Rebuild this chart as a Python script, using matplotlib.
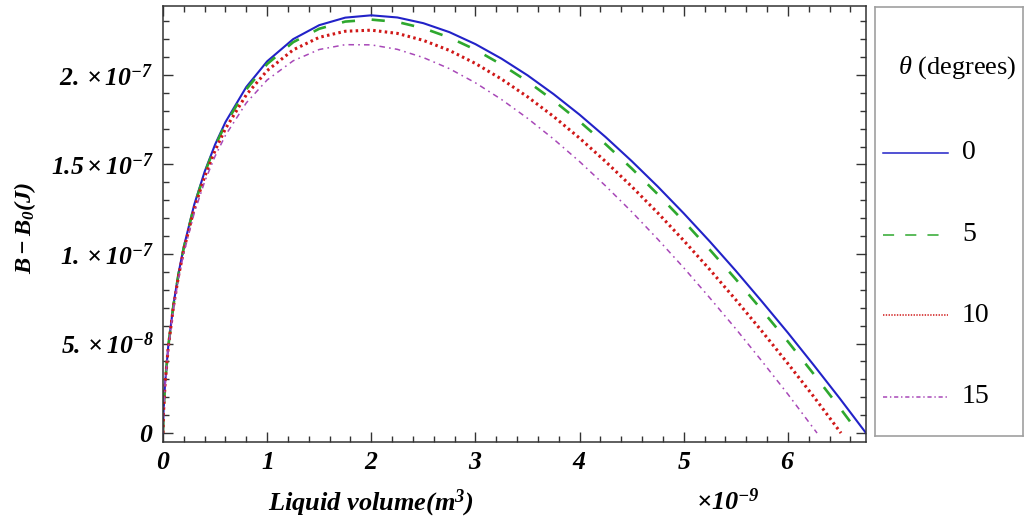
import numpy as np
import matplotlib
matplotlib.use("Agg")
import matplotlib.pyplot as plt
from matplotlib.ticker import MultipleLocator, FixedLocator, FixedFormatter

plt.rcParams['font.family'] = ['Liberation Serif', 'DejaVu Serif']
plt.rcParams['mathtext.fontset'] = 'custom'
plt.rcParams['mathtext.rm'] = 'Liberation Serif'
plt.rcParams['mathtext.it'] = 'Liberation Serif:italic'
plt.rcParams['mathtext.bf'] = 'Liberation Serif:bold'
plt.rcParams['mathtext.bfit'] = 'Liberation Serif:bold:italic'
plt.rcParams['lines.scale_dashes'] = False

# liquid volume (x 1e-9 m^3) and B - B0 (x 1e-7 J)
vol = [0, 0.005, 0.02, 0.05, 0.1, 0.15, 0.2, 0.3, 0.4, 0.5, 0.6, 0.8, 1.0,
       1.25, 1.5, 1.75, 2.0, 2.25, 2.5, 2.75, 3.0, 3.25, 3.5, 3.75, 4.0,
       4.25, 4.5, 4.75, 5.0, 5.25, 5.5, 5.75, 6.0, 6.25]

b_0 = [0, 0.117, 0.278, 0.482, 0.716, 0.895, 1.041, 1.276, 1.460, 1.611,
       1.737, 1.933, 2.076, 2.200, 2.278, 2.320, 2.333, 2.321, 2.289, 2.239,
       2.172, 2.091, 1.998, 1.893, 1.778, 1.653, 1.519, 1.377, 1.227, 1.070,
       0.906, 0.735, 0.560, 0.378]
end_0 = [(6.5, 0.192), (6.75, 0.0)]

b_5 = [0, 0.117, 0.277, 0.480, 0.713, 0.890, 1.036, 1.269, 1.452, 1.602,
       1.726, 1.920, 2.061, 2.183, 2.258, 2.298, 2.309, 2.296, 2.261, 2.209,
       2.141, 2.058, 1.964, 1.857, 1.740, 1.613, 1.478, 1.334, 1.183, 1.024,
       0.859, 0.687, 0.511, 0.328]
end_5 = [(6.5, 0.140), (6.68, 0.0)]

b_10 = [0, 0.116, 0.274, 0.475, 0.705, 0.880, 1.024, 1.253, 1.432, 1.578,
        1.700, 1.889, 2.024, 2.140, 2.210, 2.244, 2.250, 2.232, 2.193, 2.137,
        2.064, 1.977, 1.878, 1.768, 1.647, 1.516, 1.377, 1.230, 1.075, 0.913,
        0.744, 0.569, 0.388, 0.202]
end_10 = [(6.51, 0.0)]

b_15 = [0, 0.114, 0.271, 0.468, 0.694, 0.865, 1.006, 1.229, 1.404, 1.546,
        1.663, 1.844, 1.972, 2.079, 2.142, 2.169, 2.168, 2.143, 2.097, 2.035,
        1.956, 1.863, 1.758, 1.642, 1.516, 1.380, 1.236, 1.083, 0.923, 0.755,
        0.582, 0.402, 0.217]
end_15 = [(6.28, 0.0)]

angles = ['0', '5', '10', '15']
ytick_vals = [0, 0.5, 1.0, 1.5, 2.0]
ytick_labels = [r'$\mathbfit{0}$', r'$\mathbfit{5.\times 10^{-8}}$',
                r'$\mathbfit{1.\times 10^{-7}}$', r'$\mathbfit{1.5\times 10^{-7}}$',
                r'$\mathbfit{2.\times 10^{-7}}$']

colors = ['#2222c8', '#2ea82e', '#d01818', '#a848b8']
styles = ['-', (0, (9.5, 12)), (0, (1.8, 2.4)), (0, (4, 3, 1.2, 3))]
widths = [1.5, 1.9, 2.2, 1.1]

fig = plt.figure(figsize=(10.26, 5.17), dpi=100)
ax = fig.add_axes([163/1026, 1-442/517, (866-163)/1026, (442-6)/517])

series = [(b_0, end_0), (b_5, end_5), (b_10, end_10), (b_15, end_15)]
for (vals, tail), c, ls, lw in zip(series, colors, styles, widths):
    xs = vol[:len(vals)] + [p[0] for p in tail]
    ys = vals + [p[1] for p in tail]
    ax.plot(xs, ys, color=c, linestyle=ls, linewidth=lw)

ax.set_xlim(0, 6.75)
ax.set_ylim(-0.05, 2.385)
ax.xaxis.set_major_locator(MultipleLocator(1))
ax.xaxis.set_minor_locator(MultipleLocator(0.2))
ax.xaxis.set_major_formatter(plt.FuncFormatter(lambda v, p: r'$\mathbfit{%d}$' % round(v)))
ax.yaxis.set_major_locator(FixedLocator(ytick_vals))
ax.yaxis.set_major_formatter(FixedFormatter(ytick_labels))
ax.yaxis.set_minor_locator(MultipleLocator(0.1))
ax.tick_params(which='both', direction='in', top=True, right=True,
               color='#333333', width=1)
ax.tick_params(which='major', length=7, labelsize=18.5, pad=7)
ax.tick_params(which='minor', length=4)
for s in ax.spines.values():
    s.set_color('#333333')
    s.set_linewidth(1.1)

fig.text(371/1026, 1-503/517, r'$\mathbfit{Liquid\ volume(m^3)}$',
         ha='center', va='center', fontsize=19)
fig.text(728/1026, 1-502/517, r'$\mathbfit{\times 10^{-9}}$',
         ha='center', va='center', fontsize=19)
fig.text(25/1026, 1-228/517, r'$\mathbfit{B-B_0(J)}$', rotation=90,
         ha='center', va='center', fontsize=17.5)

# legend box
lax = fig.add_axes([875/1026, 1-436/517, (1023-875)/1026, (436-7)/517])
lax.set_xlim(0, 1)
lax.set_ylim(0, 1)
lax.set_xticks([])
lax.set_yticks([])
for s in lax.spines.values():
    s.set_color('#a0a0a0')
    s.set_linewidth(1.2)
lax.text(0.554, 0.858, r'$\theta$ (degrees)', ha='center', va='center', fontsize=19)
rows = [0.660, 0.469, 0.282, 0.091]
leg_styles = ['-', (0, (8, 8)), (0, (1, 1)), (0, (3, 2, 1, 2))]
for lab, c, ls, y in zip(angles, colors, leg_styles, rows):
    lax.plot([0.054, 0.493], [y, y], color=c, linestyle=ls, linewidth=1.1)
    lax.text(0.588, y, lab, ha='left', va='center', fontsize=20)

fig.savefig('out.png', dpi=100)
